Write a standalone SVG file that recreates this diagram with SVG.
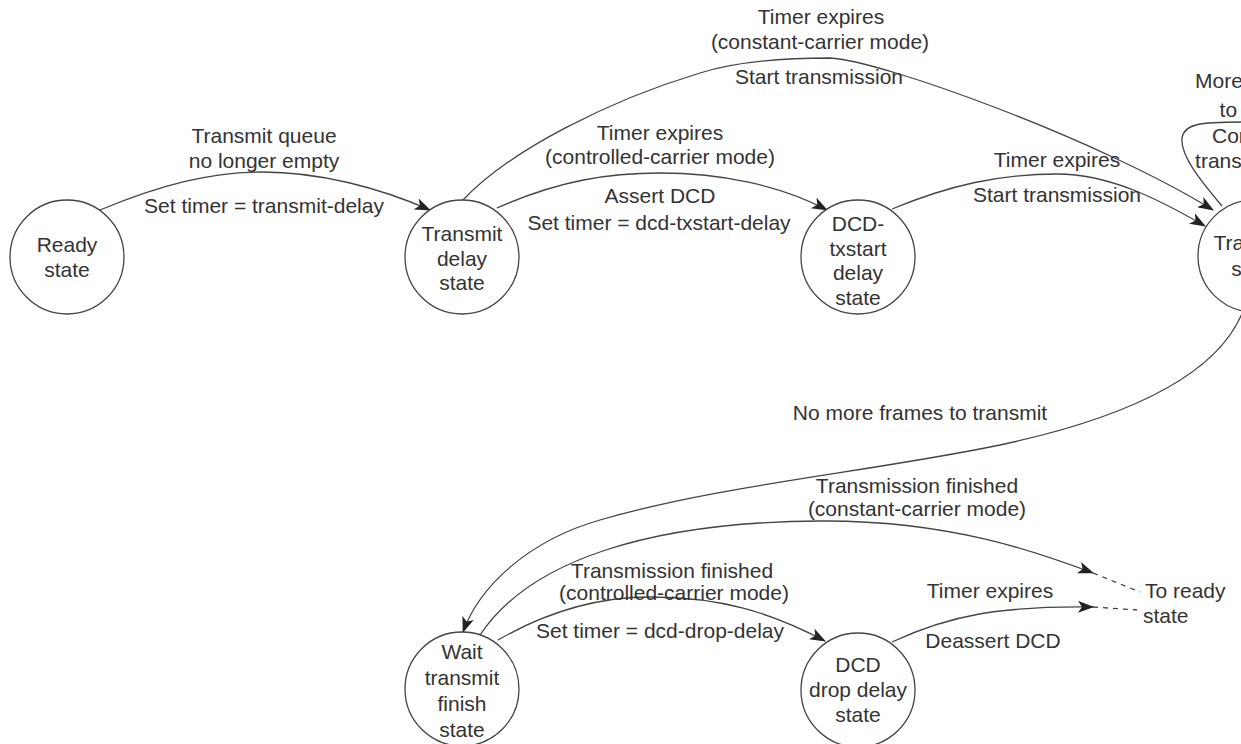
<svg xmlns="http://www.w3.org/2000/svg" width="1241" height="744" viewBox="0 0 1241 744">
<style>
text{font-family:"Liberation Sans",Arial,sans-serif;font-size:21px;fill:#333;text-anchor:middle}
.l{text-anchor:start}
.node circle{fill:#fff;stroke:#444;stroke-width:1.3}
.c path{fill:none;stroke:#444;stroke-width:1.3}
.c path.a{marker-end:url(#ah)}
.c path.d{stroke-dasharray:5 5}
</style>
<defs>
<marker id="ah" markerWidth="16" markerHeight="12" refX="15" refY="6" orient="auto" markerUnits="userSpaceOnUse">
<path d="M0,0 L16,6 L0,12 L4,6 Z" fill="#222"/>
</marker>
</defs>
<rect width="1241" height="744" fill="#fff"/>
<g class="c" id="connectors">
<path class="a" d="M100,210 C160,185 210,172 262,172 C320,172 380,188 430,210"/>
<path class="a" d="M497,208 C560,180 610,173 660,173 C720,173 780,185 827,210"/>
<path class="a" d="M463,200 C510,150 610,100 700,73 C740,60 790,58 830,58 C880,60 1100,140 1213,210"/>
<path class="a" d="M892,209 C950,185 1000,174 1057,174 C1110,174 1160,200 1205,226"/>
<path d="M1222,206 C1200,180 1180,155 1182,138 C1184,124 1200,122 1241,122 L1290,122"/>
<path class="a" d="M1243,311 C1220,370 1140,415 1000,445 C870,472 720,485 600,520 C530,540 480,585 463,632"/>
<path class="a" d="M480,635 C530,560 650,522 820,521 C950,520 1040,553 1093,573"/>
<path class="a" d="M498,640 C550,610 600,597 650,597 C720,597 770,612 825,641"/>
<path class="a" d="M892,642 C950,615 1000,606 1093,607"/>
<path class="d" d="M1093,573 L1140,592"/>
<path class="d" d="M1093,607 L1137,610"/>
</g>
<g class="node" id="ready"><circle cx="67" cy="257" r="57"/><text x="67" y="252">Ready</text><text x="67" y="277">state</text></g>
<g class="node" id="transmit-delay"><circle cx="462" cy="257" r="57"/><text x="462" y="241">Transmit</text><text x="462" y="266">delay</text><text x="462" y="290">state</text></g>
<g class="node" id="dcd-txstart"><circle cx="858" cy="257" r="57"/><text x="858" y="231">DCD-</text><text x="858" y="256">txstart</text><text x="858" y="280">delay</text><text x="858" y="305">state</text></g>
<g class="node" id="transmit"><circle cx="1254" cy="256" r="56"/><text x="1254" y="250">Transmit</text><text x="1254" y="276">state</text></g>
<g class="node" id="wait"><circle cx="462" cy="689" r="57"/><text x="462" y="659">Wait</text><text x="462" y="685">transmit</text><text x="462" y="711">finish</text><text x="462" y="737">state</text></g>
<g class="node" id="dcd-drop"><circle cx="858" cy="690" r="57"/><text x="858" y="672">DCD</text><text x="858" y="697">drop delay</text><text x="858" y="722">state</text></g>
<g id="labels">
<text x="264" y="143">Transmit queue</text>
<text x="264" y="168">no longer empty</text>
<text x="264" y="213">Set timer = transmit-delay</text>
<text x="660" y="140">Timer expires</text>
<text x="660" y="164">(controlled-carrier mode)</text>
<text x="660" y="203">Assert DCD</text>
<text x="659" y="230">Set timer = dcd-txstart-delay</text>
<text x="821" y="24">Timer expires</text>
<text x="820" y="49">(constant-carrier mode)</text>
<text x="819" y="84">Start transmission</text>
<text x="1057" y="167">Timer expires</text>
<text x="1057" y="202">Start transmission</text>
<text x="1254" y="88">More frames</text>
<text x="1254" y="117">to send</text>
<text x="1254" y="143">Continue</text>
<text x="1254" y="168">transmission</text>
<text x="920" y="420">No more frames to transmit</text>
<text x="917" y="493">Transmission finished</text>
<text x="917" y="516">(constant-carrier mode)</text>
<text x="672" y="578">Transmission finished</text>
<text x="674" y="600">(controlled-carrier mode)</text>
<text x="660" y="638">Set timer = dcd-drop-delay</text>
<text x="990" y="598">Timer expires</text>
<text x="993" y="648">Deassert DCD</text>
<text class="l" x="1145" y="598">To ready</text>
<text class="l" x="1143" y="623">state</text>
</g>
</svg>
